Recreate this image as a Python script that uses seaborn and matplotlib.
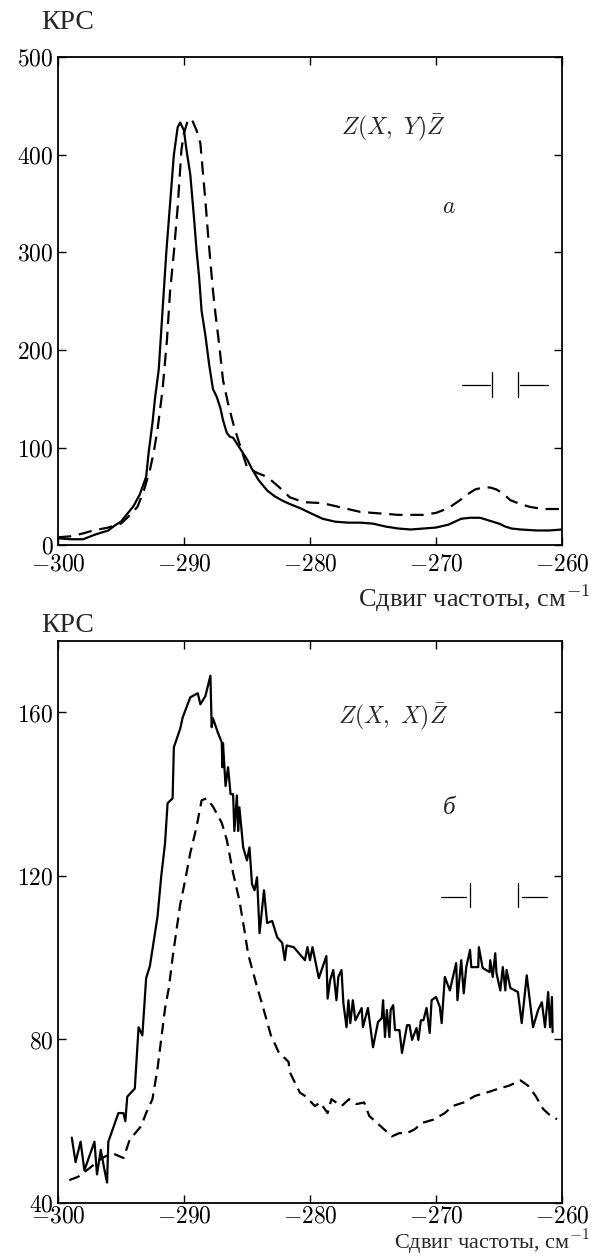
import seaborn as sns
import matplotlib.pyplot as plt
import pandas as pd
import numpy as np

# Raman spectra
x_a_solid = [-300, -299, -298, -297.6, -297, -296, -295.5, -295, -294.5, -294, -293.5, -293,
             -292.8, -292.5, -292.3, -292, -291.7, -291.4, -291.1, -290.8, -290.5, -290.3,
             -290.0, -289.8, -289.5, -289.2, -289.0, -288.8, -288.6, -288.3, -288.0, -287.7,
             -287.4, -287.1, -286.9, -286.6, -286.35, -286.1, -285.8, -285.4, -285.0, -284.6,
             -284.1, -283.4, -282.8, -282.1, -281.4, -280.8, -280.0, -279.0, -278.0, -277,
             -276, -275, -274, -273, -272, -271, -270, -269, -268.5, -268, -267.3, -266.5,
             -266, -265.5, -265, -264.5, -264, -263.3, -262, -261, -260]
y_a_solid = [7, 6, 6, 8, 11, 15, 20, 24, 32, 40, 52, 70,
             95, 125, 150, 180, 240, 300, 350, 400, 428, 433,
             425, 405, 380, 335, 302, 275, 240, 215, 185, 160,
             152, 140, 128, 115, 111, 110, 104, 96, 88, 78,
             67, 56, 50, 45, 41, 38, 33, 27, 24, 23,
             23, 22, 19, 17, 16, 17, 18, 21, 24, 27, 28, 28,
             26, 24, 22, 19, 17, 16, 15, 15, 16]

x_a_dash = [-300, -299, -298, -297.2, -296, -295, -294.5, -293.7, -293.2, -292.7, -292.4,
            -292.1, -291.7, -291.35, -291.1, -290.8, -290.5, -290.2, -290.0, -289.7, -289.4,
            -289.0, -288.7, -288.3, -288.1, -287.7, -287.5, -287.2, -286.9, -286.5, -286.1,
            -285.7, -285.0, -284.2, -283.4, -282.5, -281.6, -280.5, -279, -278, -277, -276,
            -275, -274, -273, -272, -271, -270, -269, -268.1, -267.5, -266.9, -266.3, -265.7,
            -265.2, -264.7, -264.1, -263.3, -262.5, -261.5, -260]
y_a_dash = [8, 9, 12, 15, 18, 22, 28, 39, 55, 77, 95,
            118, 159, 210, 260, 300, 346, 405, 422, 435, 437,
            425, 412, 353, 320, 261, 237, 205, 169, 145, 125,
            108, 80, 74, 70, 60, 49, 44, 43, 40, 37, 34,
            33, 32, 31, 31, 31, 33, 38, 46, 52, 57, 59, 59,
            57, 53, 46, 42, 39, 37, 37]

x_b_solid = [-298.9, -298.6, -298.2, -297.9, -297.1, -296.9, -296.6, -296.3, -296.1, -296.0,
             -295.2, -294.8, -294.65, -294.5, -293.9, -293.6, -293.3, -293.0, -292.7, -292.4,
             -292.1, -291.8, -291.5, -291.3, -290.9, -290.8, -290.3, -290.1, -289.5,
             -288.9, -288.7, -288.3, -287.9, -287.8, -287.7, -287.3, -287.0, -286.95, -286.9,
             -286.7, -286.5, -286.3, -286.1, -286.0, -285.8, -285.7, -285.6, -285.3, -285.0,
             -284.8, -284.6, -284.4, -284.2, -284.0, -283.65, -283.4, -283.0, -282.6, -282.2,
             -282.0, -281.85, -281.3, -280.4, -280.2, -280.0, -279.8, -279.3, -278.7, -278.6,
             -278.4, -278.15, -277.9, -277.75, -277.5, -277.35, -277.1, -276.95, -276.8, -276.6,
             -276.4, -275.9, -275.8, -275.4, -275.0, -274.6, -274.3, -274.2, -274.05, -273.9,
             -273.7, -273.6, -273.4, -273.25, -272.9, -272.7, -272.3, -272.1, -271.9, -271.55,
             -271.4, -271.2, -271.0, -270.75, -270.5, -270.35, -270.0, -269.7, -269.55, -269.3,
             -268.9, -268.4, -268.3, -268.0, -267.8, -267.6, -267.3, -267.2, -266.65, -266.6,
             -266.3, -265.75, -265.7, -265.5, -265.3, -265.2, -264.9, -264.7, -264.5, -264.4,
             -264.1, -263.5, -263.2, -262.8, -262.3, -261.9, -261.6, -261.35, -261.1, -260.95,
             -260.8, -260.75]
y_b_solid = [56, 50, 55, 48, 55, 47, 53, 48, 45, 55,
             62, 62, 60, 66, 68, 83, 81, 95, 98, 104,
             110, 120, 128, 137.8, 139, 151.5, 156, 158.8, 163.7,
             164.7, 162, 164, 169, 156.4, 158.6, 155, 152.7, 146.6, 152.5,
             142, 146.6, 140, 140, 131, 139.7, 131, 136.8, 127, 123.8,
             127, 118, 116.5, 119.7, 106, 116.5, 108.5, 109, 105, 103.6,
             99.4, 103, 102.6, 99.4, 102.6, 99.4, 102.6, 95, 100.4, 90,
             94.5, 97, 89.6, 95.3, 97, 88.9, 83, 89.6, 84, 89.6,
             84.7, 87.7, 83, 87.7, 78.1, 84.3, 85.2, 89.6, 80.6, 87.2,
             80.6, 87.2, 88.4, 82.3, 82.3, 76.7, 83.5, 83.5, 79.9, 82.8,
             79.9, 84.7, 84.7, 87.7, 81.6, 89.6, 90.4, 88, 84, 95.3,
             92, 98.7, 89.6, 99.4, 91.3, 97.7, 101.9, 97.7, 97.7, 102.6,
             97.5, 96.5, 99.4, 95.3, 101.1, 96.2, 92, 97.7, 92, 97,
             92.6, 91.6, 84, 95.7, 83, 87.2, 89.1, 83, 91.6, 83,
             90.4, 81.8]

x_b_dash = [-299.1, -298.4, -297.5, -296.5, -295.7, -294.8, -294.3, -293.4, -293.0, -292.5,
            -292.1, -291.8, -291.5, -291.2, -290.9, -290.6, -290.3, -289.9, -289.5, -289.0,
            -288.6, -288.2, -287.7, -287.0, -286.6, -286.1, -285.6, -285.2, -284.9, -284.3,
            -283.7, -283.1, -282.5, -281.7, -281.6, -280.8, -280.4, -279.6, -279.2, -278.6,
            -278.3, -277.5, -276.9, -276.3, -275.7, -275.3, -274.4, -273.5, -272.9, -272.3,
            -271.7, -271.1, -270.2, -269.3, -268.7, -267.8, -266.9, -266.0, -265.1, -264.2,
            -263.3, -262.7, -262.1, -261.5, -260.9, -260.4]
y_b_dash = [45.6, 46.4, 48.5, 51, 52.2, 51, 55.5, 58.8, 62, 65.4,
            72.8, 80.2, 87.6, 92.6, 100, 106.6, 113, 119, 125.6, 132,
            138.5, 139, 137, 133, 128.8, 120.7, 114, 106.7, 100.8, 94,
            87.6, 81, 77, 74.5, 72, 67, 66.2, 63.7, 64.6, 62,
            65.4, 63.7, 65.4, 64.2, 64.6, 61.3, 58.8, 56.3, 57.1, 57.1,
            58, 59.6, 60.4, 62, 63.7, 64.6, 66.2, 67, 67.9, 68.7,
            70, 68.7, 66.2, 63, 61.3, 60.5]

x_ticks = [-300, -290, -280, -270, -260]
y_ticks_a = [0, 100, 200, 300, 400, 500]
y_ticks_b = [40, 80, 120, 160]

sns.set_style("ticks")
plt.rcParams['font.family'] = ['cmr10', 'Liberation Serif']
plt.rcParams['mathtext.fontset'] = 'cm'
plt.rcParams['axes.formatter.use_mathtext'] = True
plt.rcParams['axes.unicode_minus'] = True

fig = plt.figure(figsize=(5.91, 12.56), dpi=100)
ax_a = fig.add_axes([0.098, 0.566, 0.853, 0.3885])
ax_b = fig.add_axes([0.098, 0.0422, 0.853, 0.4475])

dash_a = (0, (6, 3.5))
dash_b = (0, (5, 3))

sns.lineplot(x=x_a_solid, y=y_a_solid, ax=ax_a, color="black", lw=1.6)
sns.lineplot(x=x_a_dash, y=y_a_dash, ax=ax_a, color="black", lw=1.6, linestyle=dash_a)
sns.lineplot(x=x_b_solid, y=y_b_solid, ax=ax_b, color="black", lw=1.6)
sns.lineplot(x=x_b_dash, y=y_b_dash, ax=ax_b, color="black", lw=1.6, linestyle=dash_b)

panels = [
    (ax_a, (0, 500), y_ticks_a, r'$Z(X,\ Y)\bar{Z}$', r'$a$', 1.072, -0.108, 19, 6,
     (0.855, 0.693, 0.328, 0.355, 0.303, [0.802, 0.857, 0.861], [0.913, 0.917, 0.972])),
    (ax_b, (40, 177.5), y_ticks_b, r'$Z(X,\ X)\bar{Z}$', 'б', 1.028, -0.070, 16, 2,
     (0.865, 0.703, 0.544, 0.569, 0.527, [0.760, 0.810, 0.817], [0.913, 0.921, 0.970])),
]

for ax, ylim, yt, formula, letter, ky, xly, xlsize, xpad, marks in panels:
    ax.set_xlim(-300, -260)
    ax.set_ylim(*ylim)
    ax.set_xticks(x_ticks)
    ax.set_yticks(yt)
    ax.set_xlabel("")
    ax.set_ylabel("")
    ax.tick_params(direction="in", length=6, width=1.0, top=True, right=True,
                   labelsize=17, colors="black")
    ax.tick_params(axis="x", pad=xpad)
    ax.tick_params(axis="y", pad=3)
    for sp in ax.spines.values():
        sp.set_visible(True)
        sp.set_linewidth(1.3)
        sp.set_color("black")
    ax.text(0.02, ky, "КРС", transform=ax.transAxes, fontsize=20,
            ha="center", va="center", family=['Liberation Serif'])
    ax.text(1.056, xly, "Сдвиг частоты, см$^{-1}$", transform=ax.transAxes,
            fontsize=xlsize, ha="right", va="center", family=['Liberation Serif'])
    fy, ly, my, vtop, vbot, left_m, right_m = marks
    ax.text(0.665, fy, formula, transform=ax.transAxes, fontsize=17,
            ha="center", va="center")
    if letter == 'б':
        ax.text(0.776, ly, letter, transform=ax.transAxes, fontsize=18,
                ha="center", va="center", style="italic", family=['Liberation Serif'])
    else:
        ax.text(0.776, ly, letter, transform=ax.transAxes, fontsize=17,
                ha="center", va="center")
    # slit-width marks
    ax.plot([left_m[0], left_m[1]], [my, my], transform=ax.transAxes, color="black", lw=0.9)
    ax.plot([left_m[2], left_m[2]], [vbot, vtop], transform=ax.transAxes, color="black", lw=0.9)
    ax.plot([right_m[0], right_m[0]], [vbot, vtop], transform=ax.transAxes, color="black", lw=0.9)
    ax.plot([right_m[1], right_m[2]], [my, my], transform=ax.transAxes, color="black", lw=0.9)

plt.savefig("out.png", dpi=100)
plt.close()
